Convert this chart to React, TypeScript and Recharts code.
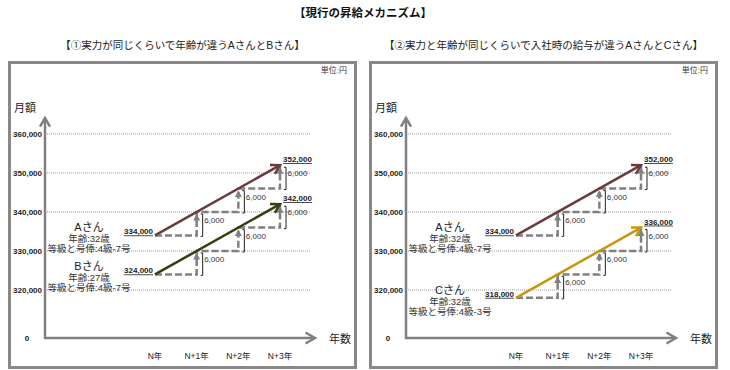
import React from "react";
import { ComposedChart, Line, XAxis, YAxis, ReferenceLine } from "recharts";

const FONT = '"Liberation Sans", Arial, "Noto Sans CJK JP", sans-serif';

const mainTitle = "【現行の昇給メカニズム】";
const panelTitles = [
  "【①実力が同じくらいで年齢が違うAさんとBさん】",
  "【②実力と年齢が同じくらいで入社時の給与が違うAさんとCさん】",
];
const unitLabel = "単位:円";
const yAxisTitle = "月額";
const xAxisTitle = "年数";
const years = ["N年", "N+1年", "N+2年", "N+3年"];
const yTicks = [0, 320000, 330000, 340000, 350000, 360000];

const salaryA = [334000, 340000, 346000, 352000];
const salaryB = [324000, 330000, 336000, 342000];
const salaryC = [318000, 324000, 330000, 336000];

const personNames = ["Aさん", "Bさん", "Cさん"];
const personAges = ["年齢:32歳", "年齢:27歳", "年齢:32歳"];
const personGrades = ["等級と号俸:4級-7号", "等級と号俸:4級-7号", "等級と号俸:4級-3号"];
const panelPersons = [
  [0, 1],
  [0, 2],
];

const salaries = [salaryA, salaryB, salaryC];
const personColors = ["#6b3b3b", "#3b3b0c", "#c8960c"];

const AXIS_BASE = 307690;
const AXIS_TOP = 364100;
const X_MIN = -2.64;
const X_MAX = 3.72;
const GRAY = "#808080";

const fmt = (v: number) => v.toLocaleString("en-US");

function YTick(props: any) {
  const { x, y, payload } = props;
  const base = payload.value === AXIS_BASE;
  return (
    <text
      x={base ? x - 15 : x}
      y={y + 3}
      textAnchor={base ? "middle" : "end"}
      fontSize={8}
      fontWeight="bold"
      fill="#222"
      fontFamily={FONT}
    >
      {base ? "0" : fmt(payload.value)}
    </text>
  );
}

function XTick(props: any) {
  const { x, y, payload } = props;
  return (
    <text x={x} y={y + 21} textAnchor="middle" fontSize={8.5} fill="#222" fontFamily={FONT}>
      {years[payload.value]}
    </text>
  );
}

function chevron(tx: number, ty: number, ang: number, len: number) {
  const s = Math.PI / 6;
  const a1 = ang + Math.PI - s;
  const a2 = ang + Math.PI + s;
  return `${tx + len * Math.cos(a1)},${ty + len * Math.sin(a1)} ${tx},${ty} ${tx + len * Math.cos(a2)},${ty + len * Math.sin(a2)}`;
}

function makeArrow(who: number) {
  const values = salaries[who];
  const color = personColors[who];
  return (p: any) => {
    const { x1, y1, x2, y2 } = p;
    const ang = Math.atan2(y2 - y1, x2 - x1);
    const cx = x1 - 66;
    return (
      <g>
        <line x1={x1} y1={y1} x2={x2} y2={y2} stroke={color} strokeWidth={2.5} />
        <polyline points={chevron(x2, y2, ang, 10)} fill="none" stroke={color} strokeWidth={2.5} />
        <text x={x1 - 2} y={y1 - 1} textAnchor="end" fontSize={8} fontWeight="bold" fill="#222" fontFamily={FONT} textDecoration="underline">
          {fmt(values[0])}
        </text>
        <text x={x2 + 3} y={y2 - 3} textAnchor="start" fontSize={8} fontWeight="bold" fill="#222" fontFamily={FONT} textDecoration="underline">
          {fmt(values[values.length - 1])}
        </text>
        <text x={cx} y={y1 - 4} textAnchor="middle" fontSize={11} fill="#222" fontFamily={FONT}>
          {personNames[who]}
        </text>
        <text x={cx} y={y1 + 7} textAnchor="middle" fontSize={9.5} fill="#333" fontFamily={FONT}>
          {personAges[who]}
        </text>
        <text x={cx} y={y1 + 17} textAnchor="middle" fontSize={9.5} fill="#333" fontFamily={FONT}>
          {personGrades[who]}
        </text>
      </g>
    );
  };
}

function makeBracket(label: string) {
  return (p: any) => {
    const { x1, y1, y2 } = p;
    const top = Math.min(y1, y2) + 2;
    const bottom = Math.max(y1, y2) + 1;
    const bx = x1 + 6;
    return (
      <g>
        <path d={`M${bx - 2},${top} H${bx} V${bottom} H${bx - 2}`} stroke="#222" strokeWidth={1} fill="none" />
        <text x={bx + 1.5} y={top + 9} fontSize={8} fill="#333" fontFamily={FONT}>
          {label}
        </text>
      </g>
    );
  };
}

function StepHead(p: any) {
  const { cx, cy, index } = p;
  if (index === 0 || cx == null || cy == null) return <g key={`h${index}`} />;
  const t = cy + 2;
  return <path key={`h${index}`} d={`M${cx},${t} L${cx + 3.5},${t + 6.5} L${cx - 3.5},${t + 6.5} Z`} fill={GRAY} />;
}

const yAxisShape = (p: any) => {
  const { x1, y1, y2 } = p;
  const top = Math.min(y1, y2);
  const bottom = Math.max(y1, y2) + 1;
  return (
    <g>
      <line x1={x1} y1={bottom} x2={x1} y2={top + 1} stroke={GRAY} strokeWidth={2.5} />
      <polyline points={chevron(x1, top, -Math.PI / 2, 10)} fill="none" stroke={GRAY} strokeWidth={2.5} />
    </g>
  );
};

const xAxisShape = (p: any) => {
  const { x1, x2, y1 } = p;
  const left = Math.min(x1, x2) - 1;
  const tip = Math.max(x1, x2) + 5;
  return (
    <g>
      <line x1={left} y1={y1} x2={tip - 1} y2={y1} stroke={GRAY} strokeWidth={2.5} />
      <polyline points={chevron(tip, y1, 0, 11)} fill="none" stroke={GRAY} strokeWidth={2.5} />
    </g>
  );
};

function Panel({ people }: { people: number[] }) {
  const grid = yTicks.filter((v) => v !== 0);
  return (
    <ComposedChart width={365} height={370} margin={{ top: 118, right: 55, bottom: 12, left: 5 }}>
      <XAxis
        type="number"
        dataKey="x"
        domain={[X_MIN, X_MAX]}
        allowDataOverflow
        ticks={[0, 1, 2, 3]}
        axisLine={false}
        tickLine={false}
        tickSize={0}
        tickMargin={0}
        height={20}
        tick={<XTick />}
      />
      <YAxis
        type="number"
        dataKey="y"
        domain={[AXIS_BASE, AXIS_TOP]}
        allowDataOverflow
        ticks={yTicks.map((v) => (v === 0 ? AXIS_BASE : v))}
        axisLine={false}
        tickLine={false}
        tickSize={0}
        tickMargin={3}
        width={40}
        tick={<YTick />}
      />
      {grid.map((v) => (
        <ReferenceLine key={`g${v}`} y={v} stroke="#9a9a9a" strokeWidth={1} strokeDasharray="1 1" />
      ))}
      {people.map((who) => (
        <Line
          key={`s${who}`}
          data={salaries[who].map((v, i) => ({ x: i, y: v }))}
          dataKey="y"
          type="stepAfter"
          stroke={GRAY}
          strokeWidth={2.5}
          strokeDasharray="7 3"
          dot={<StepHead />}
          activeDot={false}
          isAnimationActive={false}
        />
      ))}
      {people.map((who) =>
        salaries[who].slice(1).map((v, k) => (
          <ReferenceLine
            key={`b${who}-${k}`}
            segment={[
              { x: k + 1, y: salaries[who][k] },
              { x: k + 1, y: v },
            ]}
            ifOverflow="visible"
            shape={makeBracket(fmt(v - salaries[who][k]))}
          />
        ))
      )}
      {people.map((who) => (
        <ReferenceLine
          key={`a${who}`}
          segment={[
            { x: 0, y: salaries[who][0] },
            { x: salaries[who].length - 1, y: salaries[who][salaries[who].length - 1] },
          ]}
          ifOverflow="visible"
          shape={makeArrow(who)}
        />
      ))}
      <ReferenceLine y={AXIS_BASE} ifOverflow="visible" shape={xAxisShape} />
      <ReferenceLine x={X_MIN} ifOverflow="visible" shape={yAxisShape} />
    </ComposedChart>
  );
}

const abs = (s: React.CSSProperties): React.CSSProperties => ({ position: "absolute", ...s });

export default function App() {
  return (
    <div style={abs({ left: 0, top: 0, width: 730, height: 370, background: "#fff", fontFamily: FONT, color: "#111", overflow: "hidden" })}>
      <div style={abs({ left: 0, top: 7, width: 726, textAlign: "center", fontSize: 11.5, fontWeight: "bold", lineHeight: "12px" })}>
        {mainTitle}
      </div>
      {[0, 1].map((k) => {
        const off = k * 361;
        return (
          <React.Fragment key={k}>
            <div style={abs({ left: 8 + off, top: 61, width: 349, height: 308, border: "3px solid #888", boxSizing: "border-box" })} />
            <div style={abs({ left: off - 10, top: 39, width: 385, textAlign: "center", fontSize: 10.5, lineHeight: "12px", color: "#222" })}>
              {panelTitles[k]}
            </div>
            <div style={abs({ left: off + 247, top: 66, width: 100, textAlign: "right", fontSize: 8, lineHeight: "10px", color: "#333" })}>
              {unitLabel}
            </div>
            <div style={abs({ left: off + 14, top: 102, fontSize: 11, lineHeight: "13px", color: "#222" })}>{yAxisTitle}</div>
            <div style={abs({ left: off + 329, top: 333, fontSize: 11, lineHeight: "13px", color: "#222" })}>{xAxisTitle}</div>
            <div style={abs({ left: off, top: 0 })}>
              <Panel people={panelPersons[k]} />
            </div>
          </React.Fragment>
        );
      })}
    </div>
  );
}
